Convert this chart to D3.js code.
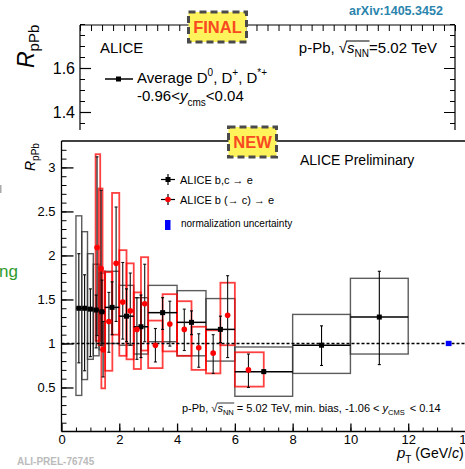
<!DOCTYPE html>
<html><head><meta charset="utf-8">
<script src="https://cdn.jsdelivr.net/npm/d3@7"></script>
<style>body{margin:0;background:#fff}svg{display:block}text{font-family:"Liberation Sans",Arial,Helvetica,sans-serif;white-space:pre}</style>
</head><body><svg id="c" width="465" height="469"></svg>
<script>
// ---------- data: ALICE b,c -> e (black) ----------
const bcPt      = [0.6, 0.8, 1.0, 1.2, 1.4, 1.75, 2.25, 2.75, 3.5, 4.5, 5.5, 7, 9, 11];
const bcHalfW   = [0.1, 0.1, 0.1, 0.1, 0.1, 0.25, 0.25, 0.25, 0.5, 0.5, 0.5, 1, 1, 1];
const bcR       = [1.40,1.40,1.39,1.38,1.36,1.41,1.31,1.19,1.35,1.24,1.16,0.68,0.98,1.30];
const bcStatLo  = [0.78,0.69,0.85,0.95,1.00,1.10,1.02,0.84,1.16,1.10,1.01,0.66,0.75,0.76];
const bcStatHi  = [2.02,1.78,1.62,1.55,1.72,1.70,1.62,1.55,1.52,1.37,1.31,0.70,1.20,1.82];
const bcSysLo   = [0.41,0.59,0.82,0.86,0.93,1.00,0.98,0.88,1.02,0.86,0.80,0.40,0.66,0.88];
const bcSysHi   = [2.45,2.27,2.02,1.90,1.80,1.82,1.66,1.52,1.66,1.60,1.51,0.96,1.33,1.74];
// ---------- data: ALICE b (-> c) -> e (red) ----------
const bPt       = [1.23,1.37,1.44,1.64,1.89,2.12,2.38,2.61,2.88,3.25,3.75,4.25,4.75,5.25,5.75,6.47];
const bBinLo    = [1.18,1.28,1.38,1.51,1.75,2.00,2.25,2.50,2.75,3.0,3.5,4.0,4.5,5.0,5.5,6.0];
const bBinHi    = [1.34,1.42,1.51,1.76,2.00,2.25,2.50,2.75,3.00,3.5,4.0,4.5,5.0,5.5,6.0,7.0];
const bR        = [2.09,1.85,0.93,1.25,1.91,1.47,1.37,1.16,1.45,0.98,1.22,1.16,0.95,0.89,1.32,0.70];
const bStatLo   = [1.09,0.98,0.62,0.90,1.25,1.05,0.98,0.82,1.02,0.79,0.97,0.92,0.73,0.66,0.84,0.50];
const bStatHi   = [3.12,2.74,1.25,1.58,2.55,1.92,1.80,1.52,1.90,1.17,1.48,1.39,1.11,1.10,1.77,0.88];
const bSysLo    = [1.03,0.98,0.49,0.69,1.10,0.86,0.82,0.71,0.92,0.72,0.91,0.86,0.70,0.66,0.98,0.51];
const bSysHi    = [3.15,2.76,1.82,1.81,2.71,2.06,1.91,1.58,1.98,1.26,1.56,1.48,1.19,1.15,1.69,0.90];
// normalization uncertainty box
const normPt = [13.3, 13.5];
const normR  = [0.97, 1.03];
// axis ticks
const xTickLabels = [0, 2, 4, 6, 8, 10, 12, 14];
const yTickLabels = [0.5, 1, 1.5, 2, 2.5, 3];
const topYTickLabels = [1.4, 1.6];

const NB = "\u00A0";
const svg = d3.select("#c");

// rich-text helper: parts placed sequentially
function rich(g, x, y, parts, anchor) {
  const grp = g.append("g");
  let cur = 0; const pos = [];
  parts.forEach(p => {
    const t = grp.append("text").attr("x", cur).attr("y", p.dy || 0)
      .attr("font-size", p.size).attr("fill", p.fill || "#000")
      .attr("font-style", p.italic ? "italic" : "normal")
      .attr("font-weight", p.bold ? "bold" : "normal")
      .text(p.t.replace(/ /g, NB));
    const w = t.node().getComputedTextLength();
    pos.push([cur, cur + w]);
    cur += w + (p.after || 0);
  });
  const ox = anchor === "end" ? x - cur : (anchor === "middle" ? x - cur / 2 : x);
  grp.attr("transform", `translate(${ox},${y})`);
  return { grp, pos, width: cur, ox };
}

// ================= TOP PANEL (FINAL) =================
const topG = svg.append("g");
topG.append("clipPath").attr("id", "topclip").append("rect").attr("x", 0).attr("y", 0).attr("width", 465).attr("height", 130);
const tp = topG.append("g").attr("clip-path", "url(#topclip)");
const yTop = d3.scaleLinear().domain([1.4, 1.6]).range([112, 68]);
const xTop = d3.scaleLinear().domain([0, 34]).range([80, 455]);
// frame
tp.append("line").attr("x1", 80).attr("x2", 455).attr("y1", 25).attr("y2", 25).attr("stroke", "#000").attr("stroke-width", 1.2);
// top ticks
tp.append("g").attr("transform", "translate(0,25)")
  .call(d3.axisTop(xTop).tickValues(d3.range(0, 35, 1)).tickSize(-6).tickFormat(""))
  .call(g => g.select(".domain").remove()).selectAll("line").attr("stroke-width", 1);
// left axis
const tl = tp.append("g").attr("transform", "translate(80,0)");
tl.call(d3.axisLeft(yTop).tickValues(d3.range(1.3, 1.81, 0.05)).tickSize(-5).tickFormat(""));
tl.select(".domain").attr("d", "M0,25V140").attr("stroke-width", 1.2);
tp.append("g").attr("transform", "translate(80,0)")
  .call(d3.axisLeft(yTop).tickValues(topYTickLabels).tickSize(-11).tickPadding(5).tickFormat(d3.format(".1f")))
  .call(g => g.select(".domain").remove())
  .call(g => g.selectAll("text").attr("font-size", 16).attr("font-family", "Liberation Sans"))
  .selectAll("line").attr("stroke-width", 1.2);
// right axis
const tr = tp.append("g").attr("transform", "translate(455,0)");
tr.call(d3.axisRight(yTop).tickValues(d3.range(1.3, 1.81, 0.05)).tickSize(-5).tickFormat(""));
tr.select(".domain").attr("d", "M0,25V140").attr("stroke-width", 1.2);
tp.append("g").attr("transform", "translate(455,0)")
  .call(d3.axisRight(yTop).tickValues(topYTickLabels).tickSize(-11).tickFormat(""))
  .call(g => g.select(".domain").remove());
// axis title
const tt = tp.append("g").attr("transform", "translate(34,68) rotate(-90)");
rich(tt, 0, 0, [{ t: "R", size: 23, italic: true }, { t: "pPb", size: 15, dy: 5 }]);
// texts
rich(tp, 100, 53, [{ t: "ALICE", size: 15 }]);
{
  const r = rich(tp, 437, 53, [
    { t: "p-Pb, ", size: 15 }, { t: "√", size: 15 }, { t: "s", size: 15, italic: true },
    { t: "NN", size: 10, dy: 4 }, { t: "=5.02 TeV", size: 15 }], "end");
  r.grp.append("line").attr("x1", r.pos[1][1] - 1).attr("x2", r.pos[3][1] + 0.5)
    .attr("y1", -12).attr("y2", -12).attr("stroke", "#000").attr("stroke-width", 1);
}
tp.append("line").attr("x1", 105).attr("x2", 133).attr("y1", 79).attr("y2", 79).attr("stroke", "#000").attr("stroke-width", 1.5);
tp.append("rect").attr("x", 116).attr("y", 76.5).attr("width", 5).attr("height", 5).attr("fill", "#000");
rich(tp, 137, 83, [{ t: "Average D", size: 15 }, { t: "0", size: 10, dy: -7 }, { t: ", D", size: 15 },
  { t: "+", size: 10, dy: -7 }, { t: ", D", size: 15 }, { t: "*+", size: 10, dy: -7 }]);
rich(tp, 137, 100.5, [{ t: "-0.96<", size: 15 }, { t: "y", size: 15, italic: true }, { t: "cms", size: 10, dy: 5 }, { t: "<0.04", size: 15 }]);

// arXiv label
svg.append("text").attr("x", 349).attr("y", 15).attr("font-size", 12.5).attr("font-weight", "bold")
  .attr("fill", "#2a84ad").text("arXiv:1405.3452");

// FINAL box
function badge(x, y, w, h, label, ty) {
  svg.append("rect").attr("x", x).attr("y", y).attr("width", w).attr("height", h)
    .attr("fill", "#fff35c").attr("stroke", "#4a4a4a").attr("stroke-width", 3).attr("stroke-dasharray", "7,4");
  svg.append("text").attr("x", x + w / 2).attr("y", ty).attr("text-anchor", "middle")
    .attr("font-size", 16.5).attr("font-weight", "bold").attr("fill", "#f84a20").text(label);
}
badge(188.5, 12, 58, 30, "FINAL", 33);

// ================= LOWER PANEL (NEW) =================
svg.append("rect").attr("x", 0).attr("y", 130).attr("width", 465).attr("height", 339).attr("fill", "#fff");
const x = d3.scaleLinear().domain([0, 14]).range([61.5, 466]);
const y = d3.scaleLinear().domain([0, 3.3]).range([431.5, 141]);
const lp = svg.append("g");

// left fragments from neighbouring slide
svg.append("text").attr("x", -1).attr("y", 277).attr("font-size", 17).attr("fill", "#2e9a2e").text("ng");
svg.append("rect").attr("x", 0).attr("y", 185).attr("width", 1.5).attr("height", 8).attr("fill", "#aaa");

const redIdx = d3.range(bPt.length);
const blkIdx = d3.range(bcPt.length);

// black systematic boxes
lp.append("g").selectAll("rect").data(blkIdx).join("rect")
  .attr("x", i => x(bcPt[i] - bcHalfW[i])).attr("width", i => x(bcPt[i] + bcHalfW[i]) - x(bcPt[i] - bcHalfW[i]))
  .attr("y", i => y(bcSysHi[i])).attr("height", i => y(bcSysLo[i]) - y(bcSysHi[i]))
  .attr("fill", "none").attr("stroke", "#333").attr("stroke-opacity", 0.8).attr("stroke-width", 1.4);
// red systematic boxes
lp.append("g").selectAll("rect").data(redIdx).join("rect")
  .attr("x", i => x(bBinLo[i])).attr("width", i => x(bBinHi[i]) - x(bBinLo[i]))
  .attr("y", i => y(bSysHi[i])).attr("height", i => y(bSysLo[i]) - y(bSysHi[i]))
  .attr("fill", "none").attr("stroke", "#ff0000").attr("stroke-opacity", 0.75).attr("stroke-width", 1.8);

// dashed line at 1
lp.append("line").attr("x1", x(0)).attr("x2", 465).attr("y1", y(1)).attr("y2", y(1))
  .attr("stroke", "#000").attr("stroke-width", 1.5).attr("stroke-dasharray", "3,2");

// black stat bars & horizontal bars
const bl = lp.append("g").attr("stroke", "#000").attr("stroke-width", 1.1);
blkIdx.forEach(i => {
  bl.append("line").attr("x1", x(bcPt[i])).attr("x2", x(bcPt[i])).attr("y1", y(bcStatLo[i])).attr("y2", y(bcStatHi[i]));
  bl.append("line").attr("x1", x(bcPt[i]) - 1.5).attr("x2", x(bcPt[i]) + 1.5).attr("y1", y(bcStatLo[i])).attr("y2", y(bcStatLo[i]));
  bl.append("line").attr("x1", x(bcPt[i]) - 1.5).attr("x2", x(bcPt[i]) + 1.5).attr("y1", y(bcStatHi[i])).attr("y2", y(bcStatHi[i]));
  bl.append("line").attr("x1", x(bcPt[i] - bcHalfW[i])).attr("x2", x(bcPt[i] + bcHalfW[i])).attr("y1", y(bcR[i])).attr("y2", y(bcR[i])).attr("stroke-width", 1.5);
});
// red stat bars (dark)
const rl = lp.append("g").attr("stroke", "#111").attr("stroke-width", 1.1);
redIdx.forEach(i => {
  rl.append("line").attr("x1", x(bPt[i])).attr("x2", x(bPt[i])).attr("y1", y(bStatLo[i])).attr("y2", y(bStatHi[i]));
  rl.append("line").attr("x1", x(bPt[i]) - 1.5).attr("x2", x(bPt[i]) + 1.5).attr("y1", y(bStatLo[i])).attr("y2", y(bStatLo[i]));
  rl.append("line").attr("x1", x(bPt[i]) - 1.5).attr("x2", x(bPt[i]) + 1.5).attr("y1", y(bStatHi[i])).attr("y2", y(bStatHi[i]));
});
// black markers
lp.append("g").selectAll("rect").data(blkIdx).join("rect")
  .attr("x", i => x(bcPt[i]) - 2.5).attr("y", i => y(bcR[i]) - 2.5).attr("width", 5).attr("height", 5).attr("fill", "#000");
// red markers
lp.append("g").selectAll("circle").data(redIdx).join("circle")
  .attr("cx", i => x(bPt[i])).attr("cy", i => y(bR[i])).attr("r", 2.8).attr("fill", "#ff0000");
// normalization box
lp.append("rect").attr("x", x(normPt[0])).attr("width", x(normPt[1]) - x(normPt[0]))
  .attr("y", y(normR[1])).attr("height", y(normR[0]) - y(normR[1])).attr("fill", "#0000ff");

// frame top line
lp.append("line").attr("x1", x(0)).attr("x2", 465).attr("y1", 141).attr("y2", 141).attr("stroke", "#000").attr("stroke-width", 1.3);
// y axis
const ya = lp.append("g").attr("transform", `translate(${x(0)},0)`);
ya.call(d3.axisLeft(y).tickValues(d3.range(0.1, 3.3, 0.1)).tickSize(-5).tickFormat(""));
ya.select(".domain").attr("d", `M0,141V${y(0)}`).attr("stroke-width", 1.3);
lp.append("g").attr("transform", `translate(${x(0)},0)`)
  .call(d3.axisLeft(y).tickValues(yTickLabels).tickSize(-12).tickPadding(6).tickFormat(d => d3.format("")(d)))
  .call(g => g.select(".domain").remove())
  .call(g => g.selectAll("text").attr("font-size", 13).attr("font-family", "Liberation Sans"))
  .selectAll("line").attr("stroke-width", 1.3);
// x axis
const xa = lp.append("g").attr("transform", `translate(0,${y(0)})`);
xa.call(d3.axisBottom(x).tickValues(d3.range(0.5, 14, 0.5)).tickSize(-4).tickFormat(""));
xa.select(".domain").attr("d", `M${x(0)},0H465`).attr("stroke-width", 1.3);
lp.append("g").attr("transform", `translate(0,${y(0)})`)
  .call(d3.axisBottom(x).tickValues(xTickLabels).tickSize(-8).tickPadding(3).tickFormat(d3.format("d")))
  .call(g => g.select(".domain").remove())
  .call(g => g.selectAll("text").attr("font-size", 13).attr("font-family", "Liberation Sans"))
  .selectAll("line").attr("stroke-width", 1.3);

// axis titles
const ly = lp.append("g").attr("transform", "translate(35,171) rotate(-90)");
rich(ly, 0, 0, [{ t: "R", size: 14, italic: true }, { t: "pPb", size: 10, dy: 4 }]);
rich(lp, 397, 458, [{ t: "p", size: 15, italic: true }, { t: "T", size: 10, dy: 5 }, { t: " (GeV/", size: 14 }, { t: "c", size: 14, italic: true }, { t: ")", size: 14 }]);

// texts
lp.append("text").attr("x", 300).attr("y", 165).attr("font-size", 14).text("ALICE Preliminary");
// legend
const lg = lp.append("g").attr("stroke", "#000").attr("stroke-width", 1.2);
lg.append("line").attr("x1", 161).attr("x2", 175).attr("y1", 179.5).attr("y2", 179.5);
lg.append("line").attr("x1", 168).attr("x2", 168).attr("y1", 174).attr("y2", 185);
lg.append("line").attr("x1", 161).attr("x2", 175).attr("y1", 199.5).attr("y2", 199.5);
lg.append("line").attr("x1", 168).attr("x2", 168).attr("y1", 194).attr("y2", 205);
lp.append("rect").attr("x", 165.5).attr("y", 177).attr("width", 5).attr("height", 5).attr("fill", "#000");
lp.append("circle").attr("cx", 168).attr("cy", 199.5).attr("r", 2.8).attr("fill", "#ff0000");
lp.append("rect").attr("x", 165).attr("y", 220).attr("width", 5.5).attr("height", 10).attr("fill", "#0000ff");
lp.append("text").attr("x", 180).attr("y", 184).attr("font-size", 11).text("ALICE b,c → e");
lp.append("text").attr("x", 180).attr("y", 204).attr("font-size", 11).text("ALICE b (→ c) → e");
lp.append("text").attr("x", 181).attr("y", 227).attr("font-size", 10).text("normalization uncertainty");
{
  const r = rich(lp, 182, 412, [
    { t: "p-Pb, ", size: 11 }, { t: "√", size: 11 }, { t: "s", size: 11, italic: true },
    { t: "NN", size: 7.5, dy: 3 }, { t: " = 5.02 TeV, min. bias, -1.06 < ", size: 11 },
    { t: "y", size: 11, italic: true }, { t: "CMS", size: 7.5, dy: 3, after: 2 }, { t: " < 0.14", size: 11 }]);
  r.grp.append("line").attr("x1", r.pos[1][1] - 0.5).attr("x2", r.pos[3][1] + 0.5)
    .attr("y1", -9).attr("y2", -9).attr("stroke", "#000").attr("stroke-width", 0.8);
}
// watermark
svg.append("text").attr("x", 17).attr("y", 465).attr("font-family", "Liberation Mono, monospace")
  .attr("font-size", 10).attr("font-weight", "bold").attr("fill", "#bbb").text("ALI-PREL-76745");

// NEW badge
badge(228.5, 127, 48, 30, "NEW", 148);
</script></body></html>
